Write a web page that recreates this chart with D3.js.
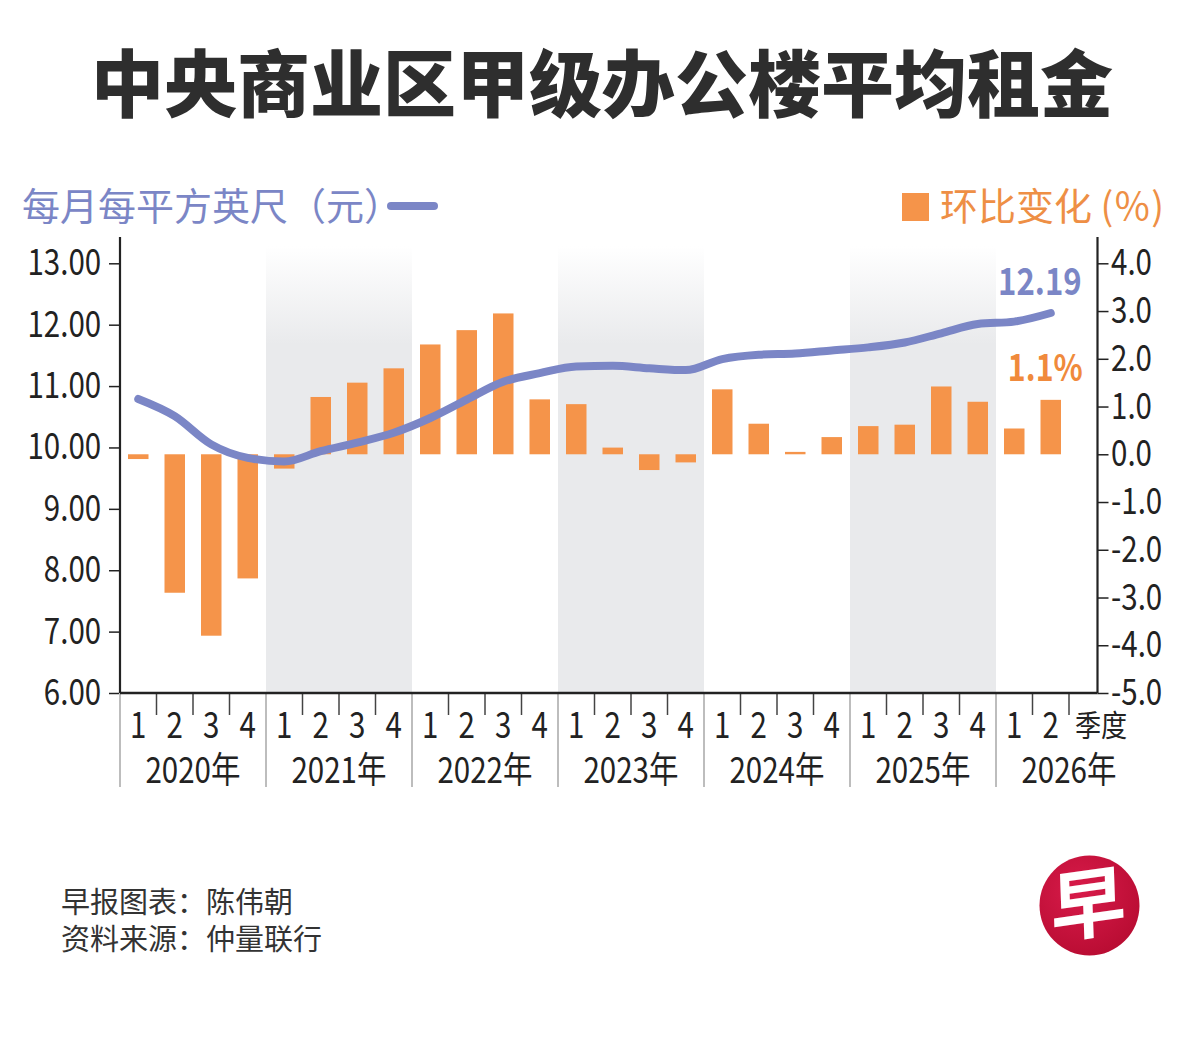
<!DOCTYPE html>
<html>
<head>
<meta charset="utf-8">
<script src="https://cdn.jsdelivr.net/npm/d3@7"></script>
<style>
  body { margin: 0; background: #fff; }
  svg { display: block; font-family: "Noto Sans CJK SC", "Noto Sans", sans-serif; }
</style>
</head>
<body>
<svg id="chart" width="1200" height="1040"></svg>
<script>
// Quarterly data, 2020 Q1 .. 2026 Q2
const years = ['2020年', '2021年', '2022年', '2023年', '2024年', '2025年', '2026年'];
const periods = [
  '2020-1', '2020-2', '2020-3', '2020-4',
  '2021-1', '2021-2', '2021-3', '2021-4',
  '2022-1', '2022-2', '2022-3', '2022-4',
  '2023-1', '2023-2', '2023-3', '2023-4',
  '2024-1', '2024-2', '2024-3', '2024-4',
  '2025-1', '2025-2', '2025-3', '2025-4',
  '2026-1', '2026-2'
];
// average rent, S$ per sq ft per month (left axis)
const rent = [
  10.79, 10.51, 10.05, 9.83,
  9.77, 9.94, 10.08, 10.24,
  10.48, 10.78, 11.07, 11.21,
  11.32, 11.33, 11.29, 11.26,
  11.44, 11.51, 11.53, 11.58,
  11.63, 11.71, 11.86, 12.01,
  12.05, 12.19
];
// quarter-on-quarter change, % (right axis)
const change = [
  -0.1, -2.9, -3.8, -2.6,
  -0.3, 1.2, 1.5, 1.8,
  2.3, 2.6, 2.95, 1.15,
  1.05, 0.14, -0.33, -0.17,
  1.36, 0.64, 0.05, 0.36,
  0.59, 0.62, 1.42, 1.1,
  0.54, 1.14
];
const rentTicks = [6, 7, 8, 9, 10, 11, 12, 13];
const changeTicks = [-5, -4, -3, -2, -1, 0, 1, 2, 3, 4];
const shadedYears = ['2021年', '2023年', '2025年'];
const lastRentLabel = '12.19';
const lastChangeLabel = '1.1%';

const BLUE = '#7b86c6';
const ORANGE = '#f5944a';
const INK = '#222';

const svg = d3.select('#chart');
const plotLeft = 120, plotRight = 1097.5, plotTop = 263.3, plotBottom = 693;
const step = 36.5;

const x = d3.scaleBand().domain(periods).range([plotLeft, plotLeft + periods.length * step]);
const yL = d3.scaleLinear().domain([6, 13]).range([plotBottom, plotTop]);
const yR = d3.scaleLinear().domain([-5, 4]).range([plotBottom, plotTop]);
const cx = p => x(p) + x.bandwidth() / 2;
const yearStart = yr => x(periods.find(p => p.startsWith(yr.slice(0, 4))));
const lastP = periods[periods.length - 1];

// gradient for the alternating year bands (fades out toward the top)
const defs = svg.append('defs');
const grad = defs.append('linearGradient').attr('id', 'shade')
  .attr('x1', 0).attr('y1', 0).attr('x2', 0).attr('y2', 1);
grad.append('stop').attr('offset', 0).attr('stop-color', '#fff');
grad.append('stop').attr('offset', 0.22).attr('stop-color', '#e9eaec');
grad.append('stop').attr('offset', 1).attr('stop-color', '#e9eaec');

// title
svg.append('text')
  .attr('x', 602).attr('y', 111)
  .attr('text-anchor', 'middle')
  .attr('font-size', 73).attr('font-weight', 900)
  .attr('fill', '#2e2e2e')
  .text('中央商业区甲级办公楼平均租金');

// legends
svg.append('text')
  .attr('x', 22).attr('y', 220)
  .attr('font-size', 38).attr('fill', BLUE)
  .text('每月每平方英尺（元）');
svg.append('line')
  .attr('x1', 391).attr('x2', 434).attr('y1', 206).attr('y2', 206)
  .attr('stroke', BLUE).attr('stroke-width', 8).attr('stroke-linecap', 'round');

svg.append('rect')
  .attr('x', 902).attr('y', 193).attr('width', 27).attr('height', 28)
  .attr('fill', ORANGE);
svg.append('text')
  .attr('x', 940).attr('y', 220)
  .attr('font-size', 38).attr('fill', '#ee8f45')
  .text('环比变化 (％)');

// shaded year bands
svg.append('g').selectAll('rect')
  .data(shadedYears)
  .join('rect')
    .attr('x', d => yearStart(d))
    .attr('y', 246)
    .attr('width', 4 * step)
    .attr('height', plotBottom - 246)
    .attr('fill', 'url(#shade)');

// bars
svg.append('g').selectAll('rect')
  .data(periods)
  .join('rect')
    .attr('x', p => cx(p) - 10.25)
    .attr('width', 20.5)
    .attr('y', (p, i) => Math.min(yR(change[i]), yR(0)))
    .attr('height', (p, i) => Math.abs(yR(change[i]) - yR(0)))
    .attr('fill', ORANGE);

// rent line
const line = d3.line()
  .x(p => cx(p))
  .y((p, i) => yL(rent[i]))
  .curve(d3.curveMonotoneX);
svg.append('path')
  .datum(periods)
  .attr('d', line)
  .attr('fill', 'none')
  .attr('stroke', BLUE)
  .attr('stroke-width', 8)
  .attr('stroke-linecap', 'round')
  .attr('stroke-linejoin', 'round');

// end labels
svg.append('text')
  .attr('transform', `translate(${cx(lastP) + 31},${yL(rent[rent.length - 1]) - 18}) scale(0.82,1)`)
  .attr('text-anchor', 'end')
  .attr('font-size', 38).attr('font-weight', 600)
  .attr('fill', BLUE)
  .text(lastRentLabel);
svg.append('text')
  .attr('transform', `translate(${cx(lastP) + 32},${yR(change[change.length - 1]) - 19}) scale(0.82,1)`)
  .attr('text-anchor', 'end')
  .attr('font-size', 37).attr('font-weight', 700)
  .attr('fill', '#f08a3c')
  .text(lastChangeLabel);

// left axis
const gL = svg.append('g')
  .attr('transform', `translate(${plotLeft},0)`)
  .call(d3.axisLeft(yL).tickValues(rentTicks).tickFormat(d => d.toFixed(2)).tickSize(11).tickPadding(12));
gL.select('.domain').remove();
gL.attr('font-family', null);
gL.selectAll('.tick line').attr('stroke', INK).attr('stroke-width', 1.5);
gL.selectAll('.tick text')
  .attr('font-size', 36).attr('fill', INK)
  .attr('transform', 'scale(0.82,1)');

// right axis
const gR = svg.append('g')
  .attr('transform', `translate(${plotRight},0)`)
  .call(d3.axisRight(yR).tickValues(changeTicks).tickFormat(d => d.toFixed(1)).tickSize(11).tickPadding(5.5));
gR.select('.domain').remove();
gR.attr('font-family', null);
gR.selectAll('.tick line').attr('stroke', INK).attr('stroke-width', 1.5);
gR.selectAll('.tick text')
  .attr('font-size', 36).attr('fill', INK)
  .attr('transform', 'scale(0.82,1)');

// axis frame lines
svg.append('line').attr('x1', plotLeft).attr('x2', plotLeft).attr('y1', 237).attr('y2', plotBottom)
  .attr('stroke', INK).attr('stroke-width', 2.2);
svg.append('line').attr('x1', plotRight).attr('x2', plotRight).attr('y1', 237).attr('y2', plotBottom)
  .attr('stroke', INK).attr('stroke-width', 2.2);

// year separators and quarter ticks under the axis
svg.append('g').selectAll('line')
  .data(years)
  .join('line')
    .attr('x1', d => yearStart(d)).attr('x2', d => yearStart(d))
    .attr('y1', plotBottom).attr('y2', 787)
    .attr('stroke', '#bdbdbd').attr('stroke-width', 2);

svg.append('g').selectAll('line')
  .data(periods.filter(p => !p.endsWith('-4')))
  .join('line')
    .attr('x1', p => x(p) + step).attr('x2', p => x(p) + step)
    .attr('y1', plotBottom).attr('y2', 715)
    .attr('stroke', '#444').attr('stroke-width', 1.5);

svg.append('line').attr('x1', plotLeft).attr('x2', plotRight).attr('y1', plotBottom).attr('y2', plotBottom)
  .attr('stroke', INK).attr('stroke-width', 2.5);

// quarter labels
svg.append('g').selectAll('text')
  .data(periods)
  .join('text')
    .attr('transform', p => `translate(${cx(p)},738) scale(0.82,1)`)
    .attr('text-anchor', 'middle')
    .attr('font-size', 36).attr('fill', INK)
    .text(p => p.split('-')[1]);

svg.append('text')
  .attr('transform', `translate(${x(lastP) + step + 6},736) scale(0.87,1)`)
  .attr('font-size', 30).attr('fill', INK)
  .text('季度');

// year labels
svg.append('g').selectAll('text')
  .data(years)
  .join('text')
    .attr('transform', d => `translate(${yearStart(d) + 2 * step},783) scale(0.82,1)`)
    .attr('text-anchor', 'middle')
    .attr('font-size', 36).attr('fill', INK)
    .text(d => d);

// footer
svg.append('text').attr('x', 61).attr('y', 913)
  .attr('font-size', 29).attr('fill', '#333').text('早报图表：陈伟朝');
svg.append('text').attr('x', 61).attr('y', 950)
  .attr('font-size', 29).attr('fill', '#333').text('资料来源：仲量联行');

// logo
const logoGrad = defs.append('radialGradient').attr('id', 'logo')
  .attr('cx', 0.4).attr('cy', 0.35).attr('r', 0.7);
logoGrad.append('stop').attr('offset', 0).attr('stop-color', '#d81b4a');
logoGrad.append('stop').attr('offset', 1).attr('stop-color', '#b80c32');
svg.append('circle').attr('cx', 1089.5).attr('cy', 905.5).attr('r', 50)
  .attr('fill', 'url(#logo)');
svg.append('text')
  .attr('transform', 'translate(1089,932) rotate(-8) skewX(-6)')
  .attr('text-anchor', 'middle')
  .attr('font-size', 76).attr('font-weight', 700)
  .attr('fill', '#fff')
  .text('早');
</script>
</body>
</html>
